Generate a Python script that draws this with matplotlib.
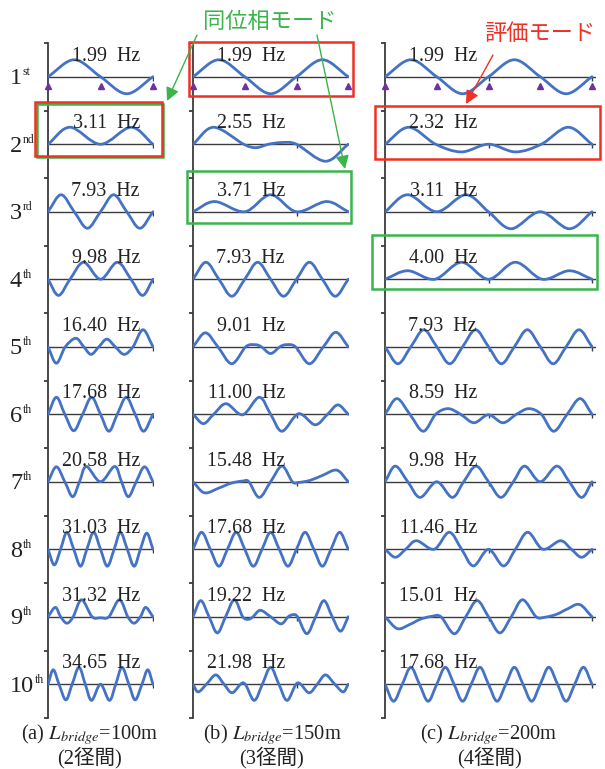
import matplotlib
matplotlib.use('Agg')
import matplotlib.pyplot as plt
import numpy as np
from matplotlib.path import Path
from matplotlib.patches import PathPatch, Rectangle, FancyArrowPatch
from matplotlib.transforms import Bbox, TransformedBbox

plt.rcParams['font.family'] = ['Liberation Serif', 'Noto Sans CJK JP']
plt.rcParams['mathtext.fontset'] = 'stix'

# mode order labels
ORD_NUM = ['1', '2', '3', '4', '5', '6', '7', '8', '9', '10']
ORD_SUF = ['st', 'nd', 'rd', 'th', 'th', 'th', 'th', 'th', 'th', 'th']

# natural frequencies [Hz]
FREQ_A = [1.99, 3.11, 7.93, 9.98, 16.40, 17.68, 20.58, 31.03, 31.32, 34.65]
FREQ_B = [1.99, 2.55, 3.71, 7.93, 9.01, 11.00, 15.48, 17.68, 19.22, 21.98]
FREQ_C = [1.99, 2.32, 3.11, 4.00, 7.93, 8.59, 9.98, 11.46, 15.01, 17.68]

# support positions [m]
SUPPORTS_A = [0, 50, 100]
SUPPORTS_B = [0, 50, 100, 150]
SUPPORTS_C = [0, 50, 100, 150, 200]

# mode shapes: (position [m], normalised amplitude)
MODES_A = [
    [(0, 0), (25, 1), (50, 0), (75, -1), (100, 0)],
    [(0, 0), (21, 1), (50, 0), (79, 1), (100, 0)],
    [(0, 0), (12.5, 1), (25, 0), (37.5, -0.97), (50, 0), (62.5, 1), (75, 0), (87.5, -0.97), (100, 0)],
    [(0, 0), (10, -0.95), (21, 0), (34, 1), (50, 0), (66, 1), (79, 0), (90, -0.95), (100, 0)],
    [(0, 0), (8, -0.97), (16.5, 0), (26.5, 0.5), (34, 0), (41, -0.45), (48.5, 0), (56, 0.45), (64, 0),
     (72.5, -0.45), (81, 0), (90.5, 1.0), (100, 0)],
    [(0, 0), (8, 1), (16, 0), (24.5, -0.97), (33, 0), (41.5, 1), (50, 0), (58, -1), (66, 0), (74.5, 1),
     (83, 0), (91, -1), (100, 0)],
    [(0, 0), (8, 0.88), (16, 0), (23.5, -0.88), (30, 0), (36.5, 0.9), (50, 0), (63.5, 0.9), (70, 0),
     (76.5, -0.88), (84, 0), (92, 0.88), (100, 0)],
    [(0, 0), (6, -0.92), (12, 0), (18, 1), (24.5, 0), (31, -1), (37, 0), (43.5, 1), (50, 0), (56.5, -1),
     (63, 0), (69, 1), (75.5, 0), (82, -1), (88, 0), (94, 0.95), (100, 0)],
    [(0, 0), (7, 0.55), (12, 0), (18, -0.38), (24, 0), (32, 1), (42, 0), (50, -0.06), (58, 0), (68, 1),
     (76, 0), (82, -0.38), (88, 0), (93, 0.55), (100, 0)],
    [(0, 0), (5, 0.85), (10.5, 0), (17, -0.92), (23, 0), (29.5, 1), (35.5, 0), (41.5, -0.95), (50, 0),
     (58.5, -0.95), (64.5, 0), (70.5, 1), (77, 0), (83, -0.92), (89.5, 0), (95, 0.85), (100, 0)],
]

MODES_B = [
    [(0, 0), (25, 1), (50, 0), (75, -1), (100, 0), (125, 1), (150, 0)],
    [(0, 0), (20, 1), (49, 0), (61, -0.2), (73, 0), (86, 0.1), (100, 0), (128, -1), (150, 0)],
    [(0, 0), (21, 0.6), (50, 0), (75, 1), (100, 0), (129, 0.6), (150, 0)],
    [(0, 0), (12.5, 1), (25, 0), (37.5, -1), (50, 0), (62.5, 1), (75, 0), (87.5, -1), (100, 0),
     (112.5, 1), (125, 0), (137.5, -1), (150, 0)],
    [(0, 0), (12, 0.82), (24, 0), (37.5, -1), (51, 0), (60, 0.12), (66, 0), (75, -0.4), (84, 0),
     (90, 0.12), (99, 0), (112.5, -1), (126, 0), (138, 0.85), (150, 0)],
    [(0, 0), (10, -0.55), (20, 0), (32, 0.62), (48, -0.03), (64, 1), (75, 0), (86, -1), (102, 0.03),
     (118, -0.62), (130, 0), (140, 0.55), (150, 0)],
    [(0, 0), (11, -0.65), (25, -0.37), (37, -0.08), (48, 0.04), (54, 0), (64, -0.92), (75, 0), (86, 0.92),
     (96, 0), (102, -0.04), (113, 0.08), (125, 0.37), (139, 0.68), (150, 0)],
    [(0, 0), (8.3, 1), (16.7, 0), (25, -1), (33.3, 0), (41.7, 1), (50, 0), (58.3, -1), (66.7, 0), (75, 1),
     (83.3, 0), (91.7, -1), (100, 0), (108.3, 1), (116.7, 0), (125, -1), (133.3, 0), (141.7, 1), (150, 0)],
    [(0, 0), (7.5, 0.95), (15.5, 0), (23.5, -0.95), (31.5, 0), (40, 1), (48, 0), (53.5, -0.15), (58, 0),
     (65, 0.38), (75, 0), (85, -0.42), (92, 0), (96.5, 0.12), (101, 0), (110, -1), (118.5, 0),
     (126.5, 0.95), (134.5, 0), (142.5, -0.85), (150, 0)],
    [(0, 0), (5, -0.45), (13, 0), (22, 0.55), (30, 0), (38, -0.5), (49, 0.08), (59, -0.95), (67, 0),
     (75, 1), (83, 0), (91, -0.95), (101, 0.08), (112, -0.5), (120, 0), (128, 0.55), (137, 0),
     (145, -0.45), (150, 0)],
]

MODES_C = [
    [(0, 0), (25, 1), (50, 0), (75, -1), (100, 0), (125, 1), (150, 0), (175, -1), (200, 0)],
    [(0, 0), (23, 1), (49, 0), (74, -0.45), (100, 0), (126, -0.45), (151, 0), (177, 1), (200, 0)],
    [(0, 0), (22, 1), (50, 0), (78, 1), (100, 0), (122, -1), (150, 0), (178, -1), (200, 0)],
    [(0, 0), (22, 0.5), (48, 0), (74, 1), (100, 0), (126, 1), (152, 0), (178, 0.5), (200, 0)],
    [(0, 0), (12.5, -1), (25, 0), (37.5, 1), (50, 0), (62.5, -1), (75, 0), (87.5, 1), (100, 0),
     (112.5, -1), (125, 0), (137.5, 1), (150, 0), (162.5, -1), (175, 0), (187.5, 1), (200, 0)],
    [(0, 0), (11.5, 0.92), (24, 0), (37, -1), (49, 0), (61, 0.33), (73, 0), (86, -0.5), (100, -0.03),
     (114, -0.5), (127, 0), (139, 0.33), (151, 0), (163, -1), (176, 0), (188.5, 0.92), (200, 0)],
    [(0, 0), (10, 0.92), (22, 0), (34, -0.92), (50, 0), (65, -0.92), (76, 0), (88, 0.92), (100, 0),
     (112, -0.92), (124, 0), (135, 0.92), (150, 0), (166, 0.92), (178, 0), (190, -0.92), (200, 0)],
    [(0, 0), (10, -0.47), (20, 0), (30.5, 0.5), (47.5, 0), (62, 1), (74, 0), (85.5, -0.98), (100, 0),
     (114.5, -0.98), (126, 0), (138, 1), (152.5, 0), (169.5, 0.5), (180, 0), (190, -0.47), (200, 0)],
    [(0, 0), (12, -0.7), (24, -0.45), (34, -0.15), (45, 0.02), (54, 0), (67, -1), (78, 0), (89, 0.95),
     (100, 0), (111, -0.95), (122, 0), (133, 1), (146, 0), (155, -0.02), (166, 0.15), (176, 0.45),
     (188, 0.72), (200, 0)],
    [(0, 0), (8.3, -1), (16.7, 0), (25, 1), (33.3, 0), (41.7, -1), (50, 0), (58.3, 1), (66.7, 0), (75, -1),
     (83.3, 0), (91.7, 1), (100, 0), (108.3, -1), (116.7, 0), (125, 1), (133.3, 0), (141.7, -1), (150, 0),
     (158.3, 1), (166.7, 0), (175, -1), (183.3, 0), (191.7, 1), (200, 0)],
]

CAPTIONS = ['(a) $L_{bridge}$=100m', '(b) $L_{bridge}$=150m', '(c) $L_{bridge}$=200m']
SUBCAPTIONS = ['(2径間)', '(3径間)', '(4径間)']

W, H = 605, 769
TOP, BOT = 43, 718          # pixel extent of the vertical axes
AMP = 17 / 67.5             # amplitude of 1.0 in row units
BLUE = '#4472C4'
AXC = '#3c3c3c'
RED = '#EE3124'
GREEN = '#3BB44A'


def smooth_path(pts):
    # Catmull-Rom spline through the read points, as cubic Bezier segments
    p = np.asarray(pts, float)
    ext = np.vstack([2 * p[0] - p[1], p, 2 * p[-1] - p[-2]])
    verts = [p[0]]
    codes = [Path.MOVETO]
    for i in range(1, len(ext) - 2):
        c1 = ext[i] + (ext[i + 1] - ext[i - 1]) / 6
        c2 = ext[i + 1] - (ext[i + 2] - ext[i]) / 6
        verts += [c1, c2, ext[i + 1]]
        codes += [Path.CURVE4] * 3
    return Path(verts, codes)


fig = plt.figure(figsize=(W / 100, H / 100), dpi=100)

columns = [
    (MODES_A, FREQ_A, SUPPORTS_A, 48, 101),
    (MODES_B, FREQ_B, SUPPORTS_B, 193, 150.5),
    (MODES_C, FREQ_C, SUPPORTS_C, 385, 204),
]
caption_x = [90, 272, 489]

axes = []
for ci, (modes, freqs, sups, left, xmax) in enumerate(columns):
    width = xmax * 1.035 if ci else xmax * 1.05
    ax = fig.add_axes([left / W, 1 - BOT / H, width / W, (BOT - TOP) / H])
    ax.set_xlim(0, xmax)
    ax.set_ylim(-10.5, -0.5)
    for s in ['top', 'right', 'bottom']:
        ax.spines[s].set_visible(False)
    ax.spines['left'].set_color(AXC)
    ax.spines['left'].set_linewidth(1.3)
    ax.set_xticks([])
    ax.set_yticks([-0.5 - j for j in range(11)])
    ax.tick_params(axis='y', direction='out', length=3, width=1.3, color=AXC, labelleft=False)
    ax.patch.set_alpha(0)

    for k, (shape, f) in enumerate(zip(modes, freqs), start=1):
        ax.axhline(-k, color=AXC, lw=1.0, zorder=1)
        ax.vlines([x for x in (100, 200) if x <= xmax], -k - 0.06, -k, color=AXC, lw=1.0, zorder=1)
        pts = [(x, -k + AMP * y) for x, y in shape]
        ax.add_patch(PathPatch(smooth_path(pts), fill=False, edgecolor=BLUE, lw=2.0,
                               capstyle='round', joinstyle='round', zorder=3))
        ax.annotate(f'{f:.2f}  Hz', xy=(0, -k), xycoords='data', xytext=(66.2, 11.5),
                    textcoords='offset points', ha='right', va='baseline', fontsize=14.4,
                    color='#222222', zorder=4)

    ax.plot(sups, [-1 - 9.5 / 67.5] * len(sups), ls='none', marker='^', ms=5,
            color='#7030A0', zorder=4, clip_on=False)

    fig.text(caption_x[ci] / W, 1 - 722 / H, CAPTIONS[ci] + '\n' + SUBCAPTIONS[ci],
             ha='center', va='top', multialignment='center', linespacing=0.97,
             fontsize=14.8, color='#222222')
    axes.append(ax)

# ordinal row labels left of column (a)
ax_a = axes[0]
clip = TransformedBbox(Bbox.from_extents(0, 0, 45 / W, 1), fig.transFigure)
for k, (num, suf) in enumerate(zip(ORD_NUM, ORD_SUF), start=1):
    t = ax_a.annotate(num, xy=(0, -k), xycoords='data', xytext=(-27.4, -5.4),
                      textcoords='offset points', ha='left', va='baseline',
                      fontsize=17.5, color='#222222', annotation_clip=False)
    s = ax_a.annotate(suf, xy=(1, -k), xycoords=(t, 'data'), xytext=(0.3, 1.1),
                      textcoords='offset points', ha='left', va='baseline',
                      fontsize=8.5, color='#222222', annotation_clip=False)
    s.set_clip_on(True)
    s.set_clip_box(clip)

# overlay for highlight boxes, arrows and notes (pixel coordinates)
ov = fig.add_axes([0, 0, 1, 1])
ov.set_xlim(0, W)
ov.set_ylim(H, 0)
ov.axis('off')

boxes = [
    ((37, 104, 163, 157), GREEN),
    ((35, 101.7, 161.7, 156), RED),
    ((189.3, 41.7, 352.7, 95.7), RED),
    ((187.3, 170.7, 350.7, 222.7), GREEN),
    ((375, 106, 600, 159.3), RED),
    ((371.7, 235, 596.7, 289), GREEN),
]
for (x0, y0, x1, y1), c in boxes:
    ov.add_patch(Rectangle((x0, y0), x1 - x0, y1 - y0, fill=False, edgecolor=c, lw=1.8))

arrows = [
    ((197, 35), (167, 101), GREEN),
    ((317, 35), (345, 169), GREEN),
    ((493, 55), (466, 104), RED),
]
for a, b, c in arrows:
    ov.add_patch(FancyArrowPatch(a, b, arrowstyle='-|>', mutation_scale=20, lw=1.0,
                                 color=c, shrinkA=0, shrinkB=0))

ov.text(270, 21.5, '同位相モード', color=GREEN, fontsize=16, ha='center', va='center',
        family=['Noto Sans CJK JP'])
ov.text(540, 33, '評価モード', color=RED, fontsize=16, ha='center', va='center',
        family=['Noto Sans CJK JP'])

fig.savefig('out.png', dpi=100)
